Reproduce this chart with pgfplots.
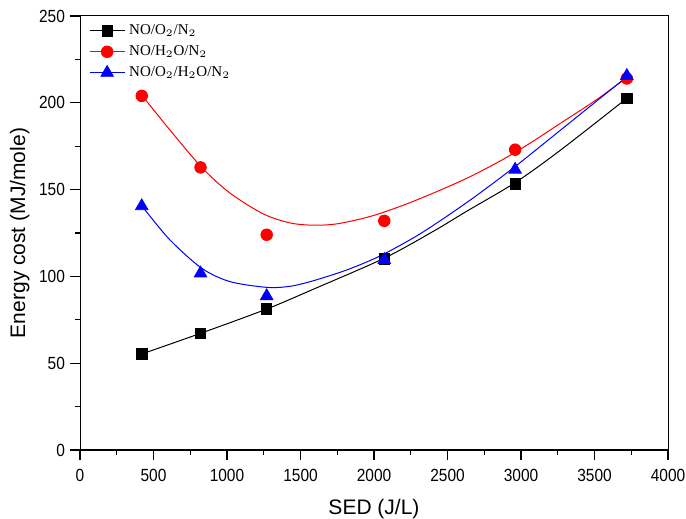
\documentclass[border=0pt]{standalone}
\usepackage{fontspec}
\setmainfont{Liberation Sans}
\newfontfamily\legfont{Liberation Serif}
\newfontfamily\tickfont[FakeStretch=0.88]{Liberation Sans}
\usepackage{pgfplots}
\pgfplotsset{compat=1.18}
\pgfplotsset{legline/.style={legend image code/.code={
    \draw[##1, sharp plot, line width=0.4pt, mark=none] (0cm,0cm) -- (0.62cm,0cm);
    \draw[##1, only marks] plot coordinates {(0.31cm,0cm)};}}}

\begin{document}
\begin{tikzpicture}
\begin{axis}[
    scale only axis,
    width=294pt, height=217pt,
    xmin=0, xmax=4000, ymin=0, ymax=250,
    xtick={0,500,...,4000}, ytick={0,50,...,250},
    minor x tick num=1, minor y tick num=1,
    tick pos=left, tick align=outside,
    major tick length=5pt, minor tick length=2.5pt,
    tick style={black, line width=0.6pt},
    axis line style={line width=0.5pt},
    /pgf/number format/1000 sep={},
    /pgf/number format/assume math mode=true,
    tick label style={font=\tickfont\fontsize{8.8}{10}\selectfont},
    xticklabel style={yshift=-1pt, inner xsep=0pt},
    yticklabel style={xshift=1pt, inner ysep=0.5pt},
    xlabel={SED (J/L)}, ylabel={Energy cost (MJ/mole)},
    label style={font=\fontsize{10.5}{12}\selectfont},
    xlabel style={yshift=-5pt, inner ysep=0.5pt},
    ylabel style={yshift=-2pt},
    legend style={draw=none, fill=none, at={(0.008,1.0)}, anchor=north west,
        font=\legfont\fontsize{7.5}{9}\selectfont, row sep=0pt,
        inner sep=2pt},
    legend cell align=left,
]
% fitted curves
\addplot[black, line width=0.5pt, smooth, forget plot] coordinates {
 (420,55.3) (820,67.2) (1270,81.2) (1587,92.6) (2070,110.5) (2404,126)
 (2630,137.5) (2960,154) (3265,172.5) (3720,202.6)};
\addplot[red, line width=0.5pt, smooth, forget plot] coordinates {
 (424,204) (612,184.3) (828,162.8) (1020,148) (1247,136) (1429,130.8)
 (1587,129.5) (1750,130.3) (1973,134.5) (2199,141) (2426,148.8) (2653,157.4)
 (2880,167.5) (3061,176.7) (3265,188) (3500,201) (3720,214.5)};
\addplot[blue, line width=0.5pt, smooth, forget plot] coordinates {
 (431,139.5) (612,121) (828,104.7) (1020,97) (1270,93.7) (1429,94.3)
 (1587,97.5) (1814,103.7) (2041,111.8) (2313,124.5) (2630,142.5)
 (2948,162.5) (3265,184) (3720,215)};
% data points
\addplot[black, only marks, mark=square*, mark size=2.6pt, legline] coordinates {
 (420,55.3) (820,67.2) (1270,81.2) (2070,110) (2960,153.2) (3720,202.6)};
\addlegendentry{NO/O$_2$/N$_2$}
\addplot[red, only marks, mark=*, mark size=2.9pt, legline] coordinates {
 (420,204) (820,162.8) (1270,124) (2070,132) (2960,173) (3720,214)};
\addlegendentry{NO/H$_2$O/N$_2$}
\addplot[blue, only marks, mark=triangle*, mark size=3.6pt, legline] coordinates {
 (420,140.5) (820,101.8) (1270,88.7) (2070,109.5) (2960,161.5) (3720,215.5)};
\addlegendentry{NO/O$_2$/H$_2$O/N$_2$}
\draw[line width=0.9pt] (rel axis cs:0,1) -- (rel axis cs:0,0) -- (rel axis cs:1,0);
\end{axis}
\pgfresetboundingbox
\path ([shift={(-40pt,-34pt)}]current axis.south west) rectangle
      ([shift={(9pt,8pt)}]current axis.north east);
\end{tikzpicture}
\end{document}
